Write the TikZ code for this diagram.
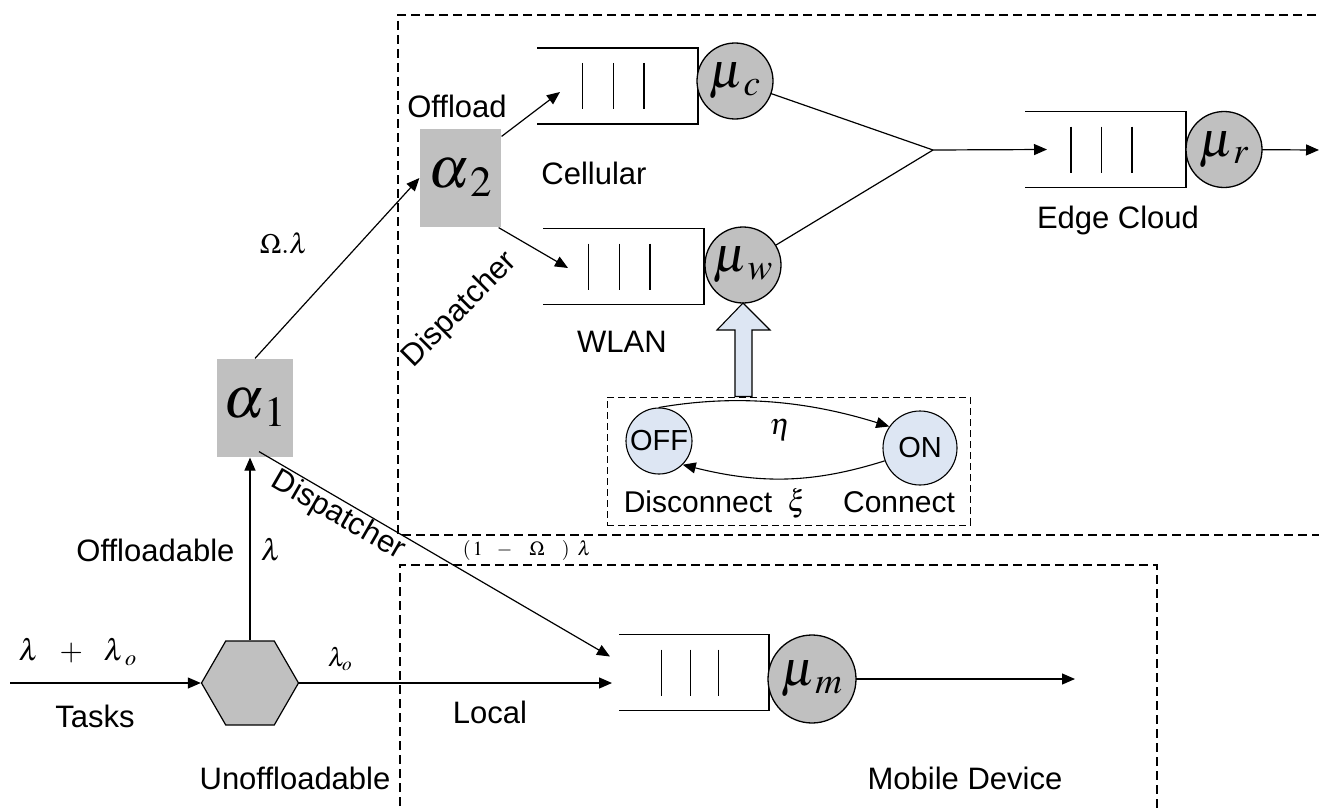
\documentclass[tikz,border=0pt]{standalone}
\usepackage{mathptmx}
\usepackage{fontspec}
\setmainfont{Liberation Sans}
\usetikzlibrary{arrows.meta,shapes.geometric,calc}
\definecolor{srvgray}{RGB}{192,192,192}
\definecolor{stblue}{RGB}{221,230,243}
\newcommand\qdraw[1]{%
  \draw[line width=1.3pt] (#1.north west) -- (#1.north east) -- (#1.south east) -- (#1.south west);
  \foreach \f in {0.285,0.475,0.665}
    \draw[line width=1.2pt] ($(#1.north west)!\f!(#1.north east)+(0,15)$) -- ($(#1.south west)!\f!(#1.south east)+(0,-15)$);
}
\begin{document}
\begin{tikzpicture}[x=1pt,y=-1pt, line width=1.2pt,
  txt/.style={font=\fontsize{31}{36}\selectfont, inner sep=0pt},
  mth/.style={font=\fontsize{30}{34}\selectfont, inner sep=0pt},
  arr/.style={-{Triangle[length=13pt,width=11pt]}},
  regionbox/.style={dash pattern=on 9pt off 5pt, line width=1.1pt},
  queue/.style={minimum width=161pt, minimum height=76pt, inner sep=0pt, outer sep=0pt},
  server/.style={circle, draw, fill=srvgray, minimum size=#1, inner sep=0pt, outer sep=0pt, line width=1.3pt, font=\fontsize{50}{54}\selectfont},
  server/.default=76pt,
  dispbox/.style={fill=srvgray, inner sep=0pt, minimum width=#1, minimum height=98pt, font=\fontsize{58}{62}\selectfont},
  stnode/.style={circle, draw, fill=stblue, inner sep=0pt, line width=1.1pt, font=\fontsize{29}{34}\selectfont},
  ctlbox/.style={draw, dash pattern=on 7pt off 4pt, line width=1pt, minimum width=363pt, minimum height=128pt, inner sep=0pt}
]
\useasboundingbox (0,0) rectangle (1319,808);

% regions
\draw[regionbox] (1330,15) -- (398,15) -- (398,535) -- (1330,535);
\draw[regionbox] (400,820) -- (400,565) -- (1157,565) -- (1157,820);

% queues and servers
\node[queue] (cq) at (617.5,86) {};
\qdraw{cq}
\node[server] (cs) at (735,81) {$\mu_{\,c}$};
\node[queue] (wq) at (623.5,266.5) {};
\qdraw{wq}
\node[server] (ws) at (743,265) {$\mu_{\,w}$};
\node[queue] (eq) at (1105.5,149.5) {};
\qdraw{eq}
\node[server] (rs) at (1224,149.5) {$\mu_{\,r}$};
\node[queue, minimum width=150pt] (lq) at (694,672.5) {};
\qdraw{lq}
\node[server=88pt] (ms) at (812,679) {$\mu_{\,m}$};

% dispatchers and splitter
\node[dispbox=81pt] (a2) at (460.5,178) {$\alpha_{\,2}$};
\node[dispbox=76pt] (a1) at (255,408) {$\alpha_{\,1}$};
\node[regular polygon, regular polygon sides=6, minimum size=97pt, inner sep=0pt, draw, fill=srvgray] (hex) at (250,683) {};

% on/off model
\node[ctlbox] (sw) at (788.5,461) {};
\node[stnode, minimum size=66pt] (off) at (659,441) {OFF};
\node[stnode, minimum size=74pt] (on) at (920,448) {ON};
\draw[arr, line width=1.1pt] (off.north) .. controls +(70,-12) and +(-90,-28) .. (on.145);
\draw[arr, line width=1.1pt] (on.200) .. controls +(-70,22) and +(80,20) .. (off.-45);
\coordinate (bt) at (ws.south);
\coordinate (bhr) at ($(bt)+(9,27)$);
\coordinate (bhl) at ($(bt)+(-8,27)$);
\draw[fill=stblue, line width=1.1pt] (bt) -- ($(bt)+(27,27)$) -- (bhr) -- (bhr |- sw.north) -- (bhl |- sw.north) -- (bhl) -- ($(bt)+(-26,27)$) -- cycle;

% connectors
\coordinate (src) at (10,683);
\coordinate (join) at (933,150);
\coordinate (rout) at (1319,150);
\coordinate (mout) at (1075,679);
\draw[arr] (src) -- (hex.west);
\draw[arr] (hex.east) -- ($(lq.west |- hex.east)+(-7,0)$);
\draw[arr] (hex.north) -- (hex.north |- a1.south);
\draw[arr] (a1.north) -- (a2.west);
\draw[arr] ($(a2.north east)+(0,8)$) -- ($(cq.west)+(23,6)$);
\draw[arr] ($(a2.south east)+(-3,0)$) -- ($(wq.west)+(25,1.5)$);
\draw (cs) -- (join);
\draw (ws) -- (join);
\draw[arr] (join) -- ($(eq.west)+(22,0)$);
\draw[arr] (rs) -- (rout);
\draw[arr] (ms) -- (mout);
\draw[arr] ($(a1.south)+(4,-6)$) -- ($(lq.west)+(-9,-16)$);

% labels
\node[mth, anchor=west] (lin) at (18,652) {$\lambda\ \ +\ \ \lambda_{\;o}$};
\node[txt] (ltasks) at (95,716) {Tasks};
\node[txt] (lunoff) at (295,778) {Unoffloadable};
\node[txt, anchor=east] (loffl) at (235,550) {Offloadable};
\node[mth] (llam) at (271,550) {$\lambda$};
\node[font=\fontsize{26}{30}\selectfont, inner sep=0pt] (llo) at (340,659) {$\lambda_o$};
\node[txt] (llocal) at (490,712) {Local};
\node[txt] (lmob) at (965,778) {Mobile Device};
\node[txt, rotate=-30] (ldisp1) at (338,516) {Dispatcher};
\node[font=\fontsize{20}{24}\selectfont, inner sep=0pt] (lrest) at (527,550) {${(}\,1\hspace{14pt}{-}\hspace{17pt}\Omega\hspace{17pt}{)}\hspace{8pt}\lambda$};
\node[font=\fontsize{28}{32}\selectfont, inner sep=0pt] (lomega) at (284,243) {$\Omega.\lambda$};
\node[txt] (loffload) at (457,106) {Offload};
\node[txt] (lcell) at (594,173) {Cellular};
\node[txt, rotate=45] (ldisp2) at (460,310) {Dispatcher};
\node[txt] (lwlan) at (622,342) {WLAN};
\node[txt] (ledge) at (1118,220) {Edge Cloud};
\node[mth] (leta) at (780,430) {$\eta$};
\node[mth] (lxi) at (797,503) {$\xi$};
\node[txt, font=\fontsize{30}{34}\selectfont] (ldis) at (698,502) {Disconnect};
\node[txt, font=\fontsize{30}{34}\selectfont] (lcon) at (899,502) {Connect};
\end{tikzpicture}
\end{document}
